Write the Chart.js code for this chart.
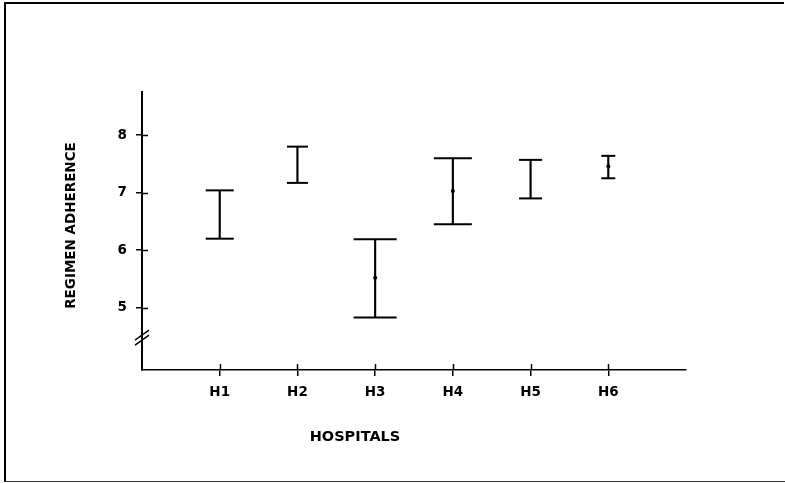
<!DOCTYPE html>
<html>
<head>
<meta charset="utf-8">
<script src="https://cdn.jsdelivr.net/npm/chart.js@4"></script>
<style>
  html, body { margin: 0; padding: 0; background: #fff; }
  #wrap { width: 785px; height: 483px; position: relative; }
</style>
</head>
<body>
<div id="wrap"><canvas id="chart"></canvas></div>
<script>
// Regimen adherence ranges per hospital
const hospitals = ['H1', 'H2', 'H3', 'H4', 'H5', 'H6'];
const upper = [7.04, 7.80, 6.19, 7.60, 7.57, 7.64];
const lower = [6.20, 7.17, 4.83, 6.45, 6.90, 7.25];
const means = [null, null, 5.52, 7.03, null, 7.46];
const yTickValues = [5, 6, 7, 8];
const yMin = 3.917;
const yMax = 8.75;
const axisBreakAt = 4.48;
const xTitle = 'HOSPITALS';
const yTitle = 'REGIMEN ADHERENCE';

// styling: half-width of each whisker cap, in px
const capHalfWidth = [14, 10.5, 21.5, 19, 11.5, 7];

const positions = hospitals.map((_, i) => i + 1);
const FONT = { family: '"DejaVu Sans", sans-serif', size: 13.5, weight: 'bold' };

const decorations = {
  id: 'decorations',
  afterDraw(chart) {
    const { ctx, scales: { x, y } } = chart;
    const axisX = x.left;
    const axisY = y.bottom;
    ctx.save();
    ctx.strokeStyle = '#000';
    ctx.fillStyle = '#000';

    // tick marks cross the axis: draw the inner halves
    ctx.lineWidth = 1.5;
    ctx.beginPath();
    yTickValues.forEach(v => {
      const py = Math.round(y.getPixelForValue(v)) + 0.5;
      ctx.moveTo(axisX, py);
      ctx.lineTo(axisX + 6, py);
    });
    positions.forEach(v => {
      const px = Math.round(x.getPixelForValue(v)) + 0.5;
      ctx.moveTo(px, axisY);
      ctx.lineTo(px, axisY - 6);
    });
    ctx.stroke();

    // axis break marks
    const by = y.getPixelForValue(axisBreakAt);
    ctx.lineWidth = 1.4;
    ctx.beginPath();
    [-2.5, 2.5].forEach(d => {
      ctx.moveTo(axisX - 7, by + d + 5);
      ctx.lineTo(axisX + 7, by + d - 5);
    });
    ctx.stroke();

    // axis titles
    ctx.textAlign = 'center';
    ctx.textBaseline = 'middle';
    ctx.font = 'bold 14.5px "DejaVu Sans", sans-serif';
    ctx.fillText(xTitle, 355, 437);
    ctx.save();
    ctx.translate(71, 225.5);
    ctx.rotate(-Math.PI / 2);
    ctx.font = 'bold 13.5px "DejaVu Sans", sans-serif';
    ctx.fillText(yTitle, 0, 0);
    ctx.restore();

    // page frame
    ctx.lineWidth = 2;
    ctx.beginPath();
    ctx.moveTo(4, 3);
    ctx.lineTo(784, 3);
    ctx.moveTo(5, 2);
    ctx.lineTo(5, 482);
    ctx.stroke();
    ctx.lineWidth = 1;
    ctx.strokeStyle = '#333';
    ctx.beginPath();
    ctx.moveTo(5, 481.5);
    ctx.lineTo(785, 481.5);
    ctx.stroke();
    ctx.restore();
  }
};

new Chart(document.getElementById('chart'), {
  data: {
    datasets: [
      {
        type: 'bar',
        data: positions.map((p, i) => ({ x: p, y: [lower[i], upper[i]] })),
        backgroundColor: '#000',
        borderWidth: 0,
        barThickness: 1.5
      },
      {
        type: 'scatter',
        data: positions.map((p, i) => ({ x: p, y: upper[i] })),
        pointStyle: 'line',
        pointRadius: capHalfWidth,
        borderColor: '#000',
        borderWidth: 2
      },
      {
        type: 'scatter',
        data: positions.map((p, i) => ({ x: p, y: lower[i] })),
        pointStyle: 'line',
        pointRadius: capHalfWidth,
        borderColor: '#000',
        borderWidth: 2
      },
      {
        type: 'scatter',
        data: positions.map((p, i) => ({ x: p, y: means[i] })),
        pointStyle: 'circle',
        pointRadius: 2,
        backgroundColor: '#000',
        borderWidth: 0
      }
    ]
  },
  options: {
    responsive: true,
    maintainAspectRatio: false,
    animation: false,
    events: [],
    layout: { padding: { left: 0, top: 92, right: 99, bottom: 0 } },
    plugins: { legend: { display: false }, tooltip: { enabled: false } },
    scales: {
      x: {
        type: 'linear',
        min: 0,
        max: 7,
        offset: false,
        afterBuildTicks: s => { s.ticks = positions.map(v => ({ value: v })); },
        ticks: {
          callback: (v, i) => hospitals[i],
          font: FONT,
          color: '#000',
          padding: 8,
          autoSkip: false,
          maxRotation: 0
        },
        grid: { display: true, drawOnChartArea: false, drawTicks: true, tickLength: 6, color: '#000', lineWidth: 1.5, offset: false },
        border: { display: true, color: '#000', width: 1.5 },
        afterFit: s => { s.height = 113; }
      },
      y: {
        type: 'linear',
        min: yMin,
        max: yMax,
        afterBuildTicks: s => { s.ticks = yTickValues.map(v => ({ value: v })); },
        ticks: { font: FONT, color: '#000', padding: 9 },
        grid: { display: true, drawOnChartArea: false, drawTicks: true, tickLength: 6, color: '#000', lineWidth: 1.5 },
        border: { display: true, color: '#000', width: 2 },
        afterFit: s => { s.width = 142; }
      }
    }
  },
  plugins: [decorations]
});
</script>
</body>
</html>
